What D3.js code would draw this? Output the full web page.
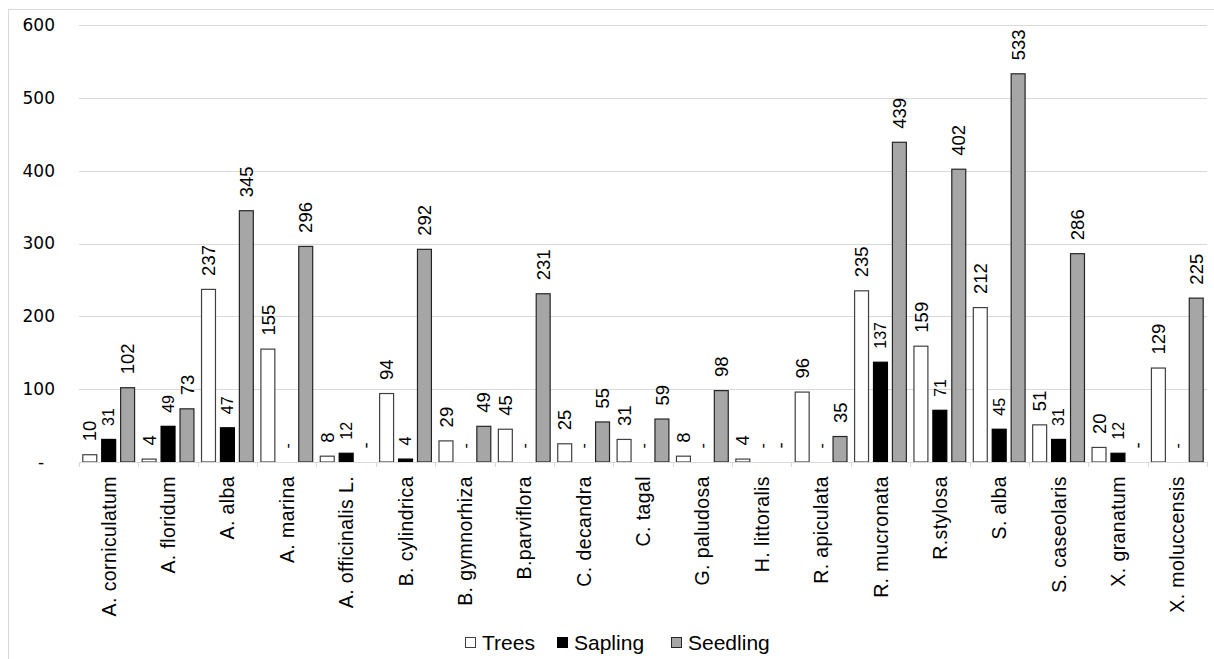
<!DOCTYPE html>
<html>
<head>
<meta charset="utf-8">
<script src="https://cdn.jsdelivr.net/npm/d3@7"></script>
<style>
  body { margin: 0; background: #fff; }
  svg { display: block; }
</style>
</head>
<body>
<div id="chart"></div>
<script>
// Données
const species = [
    "A. corniculatum", "A. floridum", "A. alba", "A. marina", "A. officinalis L.",
    "B. cylindrica", "B. gymnorhiza", "B.parviflora", "C. decandra", "C. tagal",
    "G. paludosa", "H. littoralis", "R. apiculata", "R. mucronata", "R.stylosa",
    "S. alba", "S. caseolaris", "X. granatum", "X. moluccensis"
];
const trees    = [10, 4, 237, 155, 8, 94, 29, 45, 25, 31, 8, 4, 96, 235, 159, 212, 51, 20, 129];
const sapling  = [31, 49, 47, 0, 12, 4, 0, 0, 0, 0, 0, 0, 0, 137, 71, 45, 31, 12, 0];
const seedling = [102, 73, 345, 296, 0, 292, 49, 231, 55, 59, 98, 0, 35, 439, 402, 533, 286, 0, 225];
const seriesNames = ["Trees", "Sapling", "Seedling"];
const yTicks = [0, 100, 200, 300, 400, 500, 600];

const seriesValues = { Trees: trees, Sapling: sapling, Seedling: seedling };
const fills   = { Trees: "#ffffff", Sapling: "#000000", Seedling: "#a6a6a6" };
const strokes = { Trees: "#404040", Sapling: "#000000", Seedling: "#262626" };

// Configuration
const width = 1214;
const height = 659;
const plot = { left: 79, right: 1207, top: 25, bottom: 462 };

const svg = d3.select("#chart").append("svg")
    .attr("width", width)
    .attr("height", height);

// Cadre du graphique
svg.append("rect")
    .attr("x", 8.5).attr("y", 9.5)
    .attr("width", width).attr("height", height)
    .attr("fill", "none")
    .attr("stroke", "#d9d9d9");

// Échelles
const x0 = d3.scaleBand()
    .domain(species)
    .range([plot.left, plot.right])
    .padding(0);

const x1 = d3.scaleBand()
    .domain(seriesNames)
    .range([0, x0.bandwidth()])
    .paddingInner(0.21)
    .paddingOuter(0.174);

const y = d3.scaleLinear()
    .domain([0, 600])
    .range([plot.bottom, plot.top]);

// Grille
svg.append("g")
    .selectAll("line")
    .data(yTicks.filter(t => t > 0))
    .join("line")
    .attr("x1", plot.left).attr("x2", plot.right)
    .attr("y1", d => Math.round(y(d)) + 0.5)
    .attr("y2", d => Math.round(y(d)) + 0.5)
    .attr("stroke", "#d9d9d9");

// Axe Y
const yAxis = svg.append("g")
    .attr("transform", "translate(55,0)")
    .call(d3.axisLeft(y).tickValues(yTicks).tickSize(0).tickPadding(0)
        .tickFormat(d => d === 0 ? "-\u2007" : d));
yAxis.select(".domain").remove();
yAxis.selectAll("text")
    .attr("font-family", "DejaVu Sans, Verdana, sans-serif")
    .attr("font-size", "17px")
    .attr("fill", "#000");

// Barres
const groups = svg.append("g")
    .selectAll("g")
    .data(species)
    .join("g")
    .attr("transform", d => `translate(${x0(d)},0)`);

groups.selectAll("rect")
    .data((d, i) => seriesNames.map(s => ({ s, v: seriesValues[s][i] })))
    .join("rect")
    .filter(d => d.v > 0)
    .attr("x", d => x1(d.s) + 0.5)
    .attr("y", d => y(d.v))
    .attr("width", x1.bandwidth() - 1)
    .attr("height", d => y(0) - y(d.v))
    .attr("fill", d => fills[d.s])
    .attr("stroke", d => strokes[d.s])
    .attr("stroke-width", 1.2);

// Étiquettes de données
groups.selectAll("text")
    .data((d, i) => seriesNames.map(s => ({ s, v: seriesValues[s][i] })))
    .join("text")
    .attr("transform", d => `translate(${x1(d.s) + x1.bandwidth() / 2},${y(d.v) - 13.5}) rotate(-90)`)
    .attr("dy", "0.36em")
    .attr("font-family", "Liberation Sans, Arial, sans-serif")
    .attr("font-size", d => d.s === "Sapling" ? "16px" : "18.5px")
    .attr("fill", "#000")
    .text(d => d.v === 0 ? "-" : d.v);

// Axe X
const xAxis = svg.append("g")
    .attr("transform", `translate(0,${plot.bottom})`);

xAxis.append("line")
    .attr("x1", plot.left).attr("x2", plot.right)
    .attr("y1", 0.5).attr("y2", 0.5)
    .attr("stroke", "#d9d9d9");

xAxis.selectAll("line.tick")
    .data(d3.range(species.length + 1))
    .join("line")
    .attr("class", "tick")
    .attr("x1", i => Math.round(plot.left + i * x0.step()) + 0.5)
    .attr("x2", i => Math.round(plot.left + i * x0.step()) + 0.5)
    .attr("y1", 0).attr("y2", 5)
    .attr("stroke", "#d9d9d9");

xAxis.selectAll("text")
    .data(species)
    .join("text")
    .attr("transform", d => `translate(${x0(d) + x0.bandwidth() / 2},14) rotate(-90)`)
    .attr("dy", "0.36em")
    .attr("text-anchor", "end")
    .attr("font-family", "Liberation Sans, Arial, sans-serif")
    .attr("font-size", "19.5px")
    .attr("letter-spacing", "0.4px")
    .attr("fill", "#000")
    .text(d => d);

// Légende
const legendX = [465, 557, 671];
const legend = svg.append("g")
    .selectAll("g")
    .data(seriesNames)
    .join("g")
    .attr("transform", (d, i) => `translate(${legendX[i]},637)`);

legend.append("rect")
    .attr("x", 0.5).attr("y", 0.5)
    .attr("width", 10).attr("height", 10)
    .attr("fill", d => fills[d])
    .attr("stroke", d => strokes[d]);

legend.append("text")
    .attr("x", 17)
    .attr("y", 13)
    .attr("font-family", "Liberation Sans, Arial, sans-serif")
    .attr("font-size", "21px")
    .attr("fill", "#000")
    .text(d => d);
</script>
</body>
</html>
